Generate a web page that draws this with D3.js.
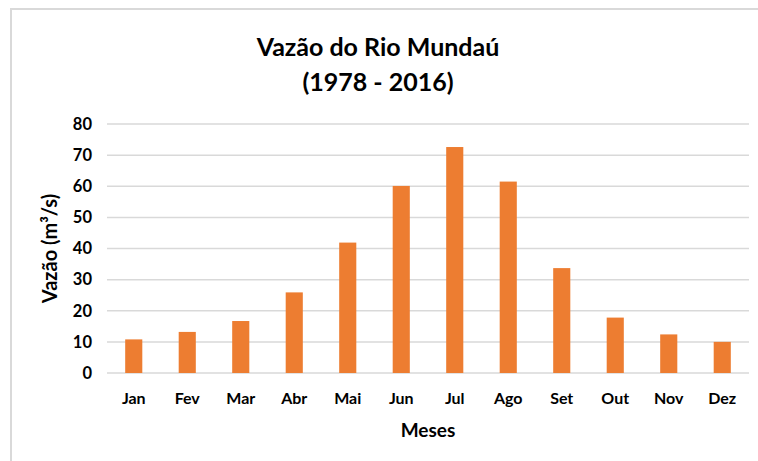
<!DOCTYPE html>
<html>
<head>
<meta charset="utf-8">
<script src="https://cdn.jsdelivr.net/npm/d3@7"></script>
<style>
  body { margin: 0; background: #fff; }
  text { font-family: Lato, "Open Sans", sans-serif; font-weight: bold; fill: #000; }
</style>
</head>
<body>
<div id="canvas"></div>
<script>
var months = ['Jan','Fev','Mar','Abr','Mai','Jun','Jul','Ago','Set','Out','Nov','Dez'];
var vazao = [10.8, 13.2, 16.7, 25.9, 41.9, 60.1, 72.6, 61.5, 33.7, 17.8, 12.4, 10.0];
var yTicks = [0, 10, 20, 30, 40, 50, 60, 70, 80];

var W = 758, H = 461;
var m = {t:124, r:9, b:88, l:107};
var w = W - m.l - m.r, h = H - m.t - m.b;

var svg = d3.select('#canvas').append('svg')
    .attr('width', W).attr('height', H);

// chart frame
svg.append('rect')
    .attr('x', 11).attr('y', 9)
    .attr('width', W + 20).attr('height', H + 20)
    .attr('fill', 'none').attr('stroke', '#d9d9d9').attr('stroke-width', 2);

var plot = svg.append('g').attr('transform', 'translate(' + m.l + ',' + m.t + ')');

var x = d3.scaleBand().domain(months).range([0, w]).paddingInner(0.68).paddingOuter(0.34);
var y = d3.scaleLinear().domain([0, 80]).range([h, 0]);

// gridlines
plot.selectAll('.grid').data(yTicks).enter().append('line')
    .attr('x1', 0).attr('x2', w)
    .attr('y1', function(d){ return y(d); })
    .attr('y2', function(d){ return y(d); })
    .attr('stroke', '#d9d9d9')
    .attr('stroke-width', 1.5);

// bars
plot.selectAll('.bar').data(vazao).enter().append('rect')
    .attr('x', function(d, i){ return x(months[i]); })
    .attr('width', x.bandwidth())
    .attr('y', function(d){ return y(d); })
    .attr('height', function(d){ return h - y(d); })
    .attr('fill', '#ed7d31');

// y tick labels
plot.selectAll('.ylab').data(yTicks).enter().append('text')
    .attr('x', -15).attr('y', function(d){ return y(d); })
    .attr('dy', '0.35em').attr('text-anchor', 'end')
    .style('font-size', '16.5px')
    .text(function(d){ return d; });

// x labels
plot.selectAll('.xlab').data(months).enter().append('text')
    .attr('x', function(d){ return x(d) + x.bandwidth() / 2; })
    .attr('y', h + 31).attr('text-anchor', 'middle')
    .style('font-size', '16px')
    .text(function(d){ return d; });

// axis titles
svg.append('text')
    .attr('x', m.l + w / 2).attr('y', 437).attr('text-anchor', 'middle')
    .style('font-size', '19px').text('Meses');

svg.append('text')
    .attr('transform', 'translate(57,' + (m.t + h / 2) + ') rotate(-90)')
    .attr('text-anchor', 'middle')
    .style('font-size', '20px').text('Vazão (m³/s)');

// title
svg.append('text')
    .attr('x', 378).attr('y', 56).attr('text-anchor', 'middle')
    .style('font-size', '25px').text('Vazão do Rio Mundaú');
svg.append('text')
    .attr('x', 378).attr('y', 91).attr('text-anchor', 'middle')
    .style('font-size', '25px').text('(1978 - 2016)');
</script>
</body>
</html>
